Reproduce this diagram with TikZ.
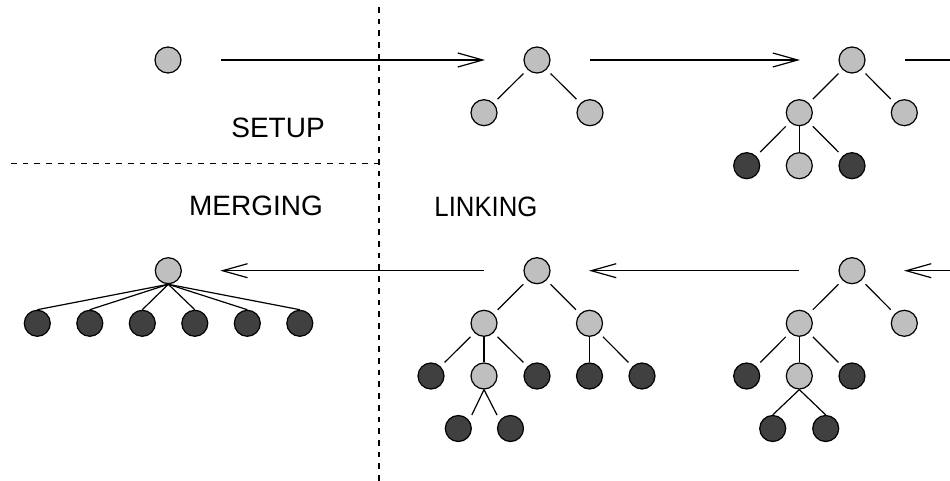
\documentclass[tikz,border=0pt]{standalone}
\usepackage{fontspec}
\setmainfont{Liberation Sans}
\usetikzlibrary{arrows.meta,calc}

\definecolor{lightnode}{RGB}{191,191,191}
\definecolor{darknode}{RGB}{64,64,64}

\tikzset{
  vert/.style={circle, draw=black, line width=1.2pt, minimum size=26pt, inner sep=0pt},
  lt/.style={vert, fill=lightnode},
  dk/.style={vert, fill=darknode},
  tedge/.style={line width=1.2pt},
  diag/.style={tedge, shorten <=5.6pt, shorten >=5.6pt},
  phase/.style={line width=1.2pt, -{Straight Barb[length=25pt,width=14pt]},
                shorten <=39.4pt, shorten >=38.4pt},
  divider/.style={line width=1.1pt, dash pattern=on 5.7pt off 6pt},
  label/.style={font=\fontsize{28}{34}\selectfont, inner sep=0pt}
}

\begin{document}
\begin{tikzpicture}[x=1pt, y=-1pt]
  \useasboundingbox (0,0) rectangle (950,481);
  \clip (0,0) rectangle (950,481);

  % section dividers
  \coordinate (vtop) at (379,7);
  \coordinate (vbot) at (379,481);
  \coordinate (hleft) at (11,163.3);
  \coordinate (hright) at (379,163.3);
  \draw[divider] (vtop) -- (vbot);
  \draw[divider] (hleft) -- (hright);

  % phase labels
  \node[label] (setup) at (278,128) {SETUP};
  \node[label] (merging) at (256,206) {MERGING};
  \node[label, xscale=0.92] (linking) at (486,206.5) {LINKING};

  % single vertex
  \node[lt] (s0) at (168,60) {};

  % two-child tree
  \node[lt] (p1r) at (537,60) {};
  \node[lt] (p1a) at (484,112.7) {};
  \node[lt] (p1b) at (590,112.7) {};
  \draw[diag] (p1r) -- (p1a);
  \draw[diag] (p1r) -- (p1b);

  % tree with three grandchildren
  \node[lt] (p2r) at (852,60) {};
  \node[lt] (p2a) at (799.3,112.7) {};
  \node[lt] (p2b) at (904.3,112.7) {};
  \node[dk] (p2aa) at (746.7,165.7) {};
  \node[lt] (p2ab) at (799.3,165.7) {};
  \node[dk] (p2ac) at (852,165.7) {};
  \draw[diag] (p2r) -- (p2a);
  \draw[diag] (p2r) -- (p2b);
  \draw[diag] (p2a) -- (p2aa);
  \draw[tedge] (p2a) -- (p2ab);
  \draw[diag] (p2a) -- (p2ac);

  % deeper tree, lower right
  \node[lt] (p3r) at (852,270.7) {};
  \node[lt] (p3a) at (799.3,323.3) {};
  \node[lt] (p3b) at (904.3,323.3) {};
  \node[dk] (p3aa) at (746.7,376) {};
  \node[lt] (p3ab) at (799.3,376) {};
  \node[dk] (p3ac) at (852,376) {};
  \node[dk] (p3aba) at (772.7,428.5) {};
  \node[dk] (p3abb) at (825.7,428.5) {};
  \draw[diag] (p3r) -- (p3a);
  \draw[diag] (p3r) -- (p3b);
  \draw[diag] (p3a) -- (p3aa);
  \draw[tedge] (p3a) -- (p3ab);
  \draw[diag] (p3a) -- (p3ac);
  \draw[tedge] (p3ab.south) -- (p3aba.north);
  \draw[tedge] (p3ab.south) -- (p3abb.north);

  % linked tree, lower middle
  \node[lt] (p4r) at (537,270.7) {};
  \node[lt] (p4a) at (484,323.3) {};
  \node[lt] (p4b) at (589.5,323.3) {};
  \node[dk] (p4aa) at (431,376) {};
  \node[lt] (p4ab) at (484,376) {};
  \node[dk] (p4ac) at (537,376) {};
  \node[dk] (p4ba) at (589.5,376) {};
  \node[dk] (p4bb) at (642,376) {};
  \node[dk] (p4aba) at (458.3,428.5) {};
  \node[dk] (p4abb) at (510.5,428.5) {};
  \draw[diag] (p4r) -- (p4a);
  \draw[diag] (p4r) -- (p4b);
  \draw[diag] (p4a) -- (p4aa);
  \draw[tedge] (p4a) -- (p4ab);
  \draw[diag] (p4a) -- (p4ac);
  \draw[tedge] (p4b) -- (p4ba);
  \draw[diag] (p4b) -- (p4bb);
  \draw[tedge] (p4ab.south) -- ($(p4aba.center)+(13.5,-13.5)$);
  \draw[tedge] (p4ab.south) -- ($(p4abb.center)+(-13.5,-13.5)$);

  % merged star, lower left
  \node[lt] (p5r) at (168.3,270.7) {};
  \foreach \i/\x in {1/37.3, 2/89.8, 3/142.3, 4/194.8, 5/247.3, 6/299.8} {
    \node[dk] (p5c\i) at (\x,323.3) {};
    \draw[tedge] (p5r.south) -- (p5c\i.north);
  }

  % phase transitions
  \coordinate (outtop) at (1000,60);
  \coordinate (inbot) at (1000,270.7);
  \draw[phase] (s0) -- (p1r);
  \draw[phase] (p1r) -- (p2r);
  \draw[phase, -] (p2r) -- (outtop);
  \draw[phase, shorten <=0pt] (inbot) -- (p3r);
  \draw[phase] (p3r) -- (p4r);
  \draw[phase] (p4r) -- (p5r);
\end{tikzpicture}
\end{document}
